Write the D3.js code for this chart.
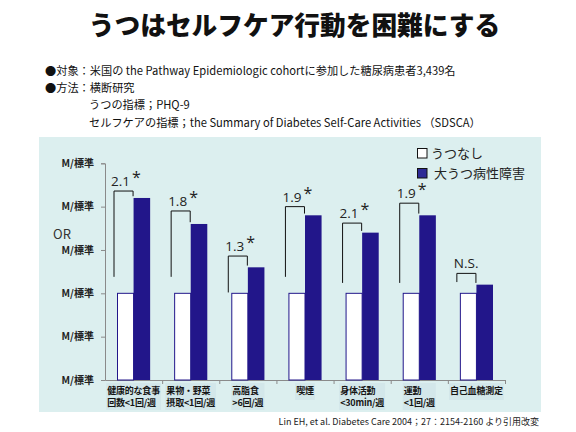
<!DOCTYPE html>
<html lang="ja">
<head>
<meta charset="UTF-8" />
<title>うつはセルフケア行動を困難にする</title>
<script src="https://d3js.org/d3.v7.min.js"></script>
<style>
  html, body { margin: 0; padding: 0; background: #fff; }
  svg { display: block; font-family: "Noto Sans CJK JP", "Noto Sans", sans-serif; }
</style>
</head>
<body>
<div id="chart"></div>
<script>
const categories = [
  ["健康的な食事", "回数<1回/週"],
  ["果物・野菜", "摂取<1回/週"],
  ["高脂食", ">6回/週"],
  ["喫煙"],
  ["身体活動", "<30min/週"],
  ["運動", "<1回/週"],
  ["自己血糖測定"]
];
const seriesNames = ["うつなし", "大うつ病性障害"];
const noDepression = [1, 1, 1, 1, 1, 1, 1];
const majorDepression = [2.1, 1.8, 1.3, 1.9, 1.7, 1.9, 1.1];
const orLabels = ["2.1", "1.8", "1.3", "1.9", "2.1", "1.9", "N.S."];
const significant = [true, true, true, true, true, true, false];
// bracket heights in OR units
const bracketTop = [2.18, 1.95, 1.43, 2.0, 1.81, 2.04, 1.23];
const bracketBase = [1.19, 1.19, 1.01, 1.19, 1.12, 1.12, 1.13];
const yTicks = [0, 0.5, 1, 1.5, 2, 2.5];
const yTickLabel = "M/標準";
const infoLines = [
  "●対象：米国の the Pathway Epidemiologic cohortに参加した糖尿病患者3,439名",
  "●方法：横断研究",
  "うつの指標；PHQ-9",
  "セルフケアの指標；the Summary of Diabetes Self-Care Activities （SDSCA）"
];
const source = "Lin EH, et al. Diabetes Care 2004；27：2154-2160 より引用改変";

const W = 576, H = 432;
const navy = "#22168a";

const svg = d3.select("#chart").append("svg")
  .attr("width", W).attr("height", H);

svg.append("text")
  .attr("x", 294.5).attr("y", 35)
  .attr("text-anchor", "middle")
  .attr("font-size", 25.7).attr("font-weight", 900)
  .attr("fill", "#111")
  .text("うつはセルフケア行動を困難にする");

svg.selectAll(".info")
  .data(infoLines)
  .join("text")
  .attr("class", "info")
  .attr("x", (d, i) => i < 2 ? 45 : 89)
  .attr("y", (d, i) => 75 + i * 17.2)
  .attr("font-size", 11.2)
  .attr("fill", "#111")
  .text(d => d);

// panel
svg.append("rect")
  .attr("x", 39).attr("y", 137)
  .attr("width", 502).attr("height", 275)
  .attr("fill", "#dcefef");

const y = d3.scaleLinear().domain([0, 2.5]).range([380, 163.3]);
const x = d3.scaleBand()
  .domain(d3.range(categories.length))
  .range([105, 505])
  .paddingInner(0.42).paddingOuter(0.21);
const xs = d3.scaleBand().domain([0, 1]).range([0, x.bandwidth()]);

// y axis
const yAxis = svg.append("g")
  .attr("transform", "translate(105,0)")
  .call(d3.axisLeft(y).tickValues(yTicks).tickSize(4).tickFormat(() => yTickLabel));
yAxis.select(".domain").attr("stroke", "#8a8a8a");
yAxis.selectAll(".tick line").attr("stroke", "#8a8a8a");
yAxis.selectAll(".tick text")
  .attr("x", -11)
  .attr("font-size", 10).attr("font-weight", "bold")
  .attr("fill", "#222")
  .attr("font-family", "'Noto Sans CJK JP', sans-serif");

svg.append("text")
  .attr("x", 53).attr("y", 239)
  .attr("font-size", 13).attr("fill", "#333")
  .text("OR");

// x axis line with ticks at band boundaries
const xb = d3.scaleLinear().domain([0, categories.length]).range([105, 505]);
const xAxis = svg.append("g")
  .attr("transform", "translate(0,380)")
  .call(d3.axisBottom(xb).ticks(categories.length).tickSize(4).tickSizeOuter(0).tickFormat(""));
xAxis.select(".domain").attr("stroke", "#8a8a8a");
xAxis.selectAll(".tick line").attr("stroke", "#8a8a8a");
xAxis.selectAll(".tick").filter(d => d === 0).remove();

// bars
const groups = svg.selectAll(".grp")
  .data(categories.map((c, i) => i))
  .join("g")
  .attr("class", "grp")
  .attr("transform", i => `translate(${x(i)},0)`);

groups.append("rect")
  .attr("x", xs(0) + 0.5)
  .attr("y", i => y(noDepression[i]))
  .attr("width", xs.bandwidth() - 0.5)
  .attr("height", i => y(0) - y(noDepression[i]))
  .attr("fill", "#fff")
  .attr("stroke", navy).attr("stroke-width", 1);

groups.append("rect")
  .attr("x", xs(1))
  .attr("y", i => y(majorDepression[i]))
  .attr("width", xs.bandwidth())
  .attr("height", i => y(0) - y(majorDepression[i]))
  .attr("fill", navy);

// brackets
groups.append("path")
  .attr("fill", "none")
  .attr("stroke", "#111")
  .attr("stroke-width", 1)
  .attr("d", i => {
    const x0 = xs(0) - 3, x1 = xs(1) - 0.5;
    return `M${x0},${y(bracketBase[i])}V${y(bracketTop[i])}H${x1}V${y(majorDepression[i] + 0.02)}`;
  });

const lab = groups.append("text")
  .attr("x", xs(0) - 6)
  .attr("y", i => y(bracketTop[i]) - 5)
  .attr("font-size", 13.5)
  .attr("fill", "#222")
  .attr("font-family", "'Open Sans', 'Noto Sans', sans-serif")
  .text(i => orLabels[i]);
lab.filter(i => significant[i]).append("tspan")
  .attr("dx", 2).attr("dy", -3)
  .attr("font-size", 16)
  .text("*");

// category labels
const catG = svg.selectAll(".cat")
  .data(categories.map((c, i) => i))
  .join("g")
  .attr("class", "cat");
catG.each(function (i) {
  const g = d3.select(this);
  const lines = categories[i];
  const bg = g.append("rect").attr("fill", "#d3e7ea");
  const t = g.append("text")
    .attr("font-size", 9).attr("font-weight", "bold")
    .attr("letter-spacing", -0.2)
    .attr("fill", "#151515");
  lines.forEach((l, k) => {
    t.append("tspan").attr("x", 0).attr("y", 394 + k * 11.5).text(l);
  });
  const w = d3.max(t.selectAll("tspan").nodes(), n => n.getComputedTextLength());
  const cx = x(i) + x.bandwidth() / 2;
  const left = cx - w / 2;
  t.selectAll("tspan").attr("x", left);
  bg.attr("x", left - 1).attr("y", 383)
    .attr("width", w + 2).attr("height", lines.length > 1 ? 27 : 17);
});

// legend
const legend = svg.append("g").attr("transform", "translate(417,148)");
seriesNames.forEach((name, k) => {
  const row = legend.append("g").attr("transform", `translate(0,${k * 20})`);
  row.append("rect")
    .attr("x", 0.5).attr("y", 0.5)
    .attr("width", 9.5).attr("height", 9.5)
    .attr("fill", k === 0 ? "#fff" : "#2e2a96")
    .attr("stroke", "#111").attr("stroke-width", 1);
  row.append("text")
    .attr("x", k === 0 ? 14 : 17).attr("y", 10)
    .attr("font-size", 13).attr("fill", "#222")
    .text(name);
});

svg.append("text")
  .attr("x", 539).attr("y", 425)
  .attr("text-anchor", "end")
  .attr("font-size", 9).attr("fill", "#222")
  .text(source);
</script>
</body>
</html>
